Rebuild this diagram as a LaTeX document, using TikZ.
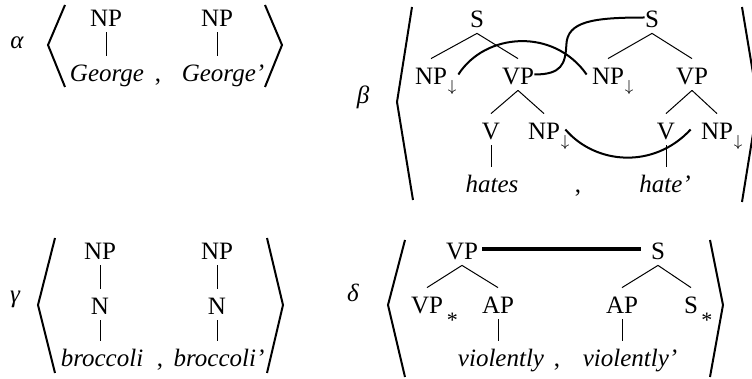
\documentclass[tikz,border=0pt]{standalone}
\usepackage{fontspec}
\setmainfont{Liberation Serif}

\newcommand{\subdown}{\rlap{\kern0.5pt\raisebox{-3.4pt}{\fontsize{8.5}{8.5}\selectfont$\downarrow$}}}
\newcommand{\footstar}[1]{\rlap{\hspace{#1}\raisebox{-7pt}{\fontsize{11}{11}\selectfont *}}}

\begin{document}
\begin{tikzpicture}[x=0.5pt, y=-0.5pt,
    cat/.style={inner sep=0pt, anchor=base, text height=13pt, text depth=2.5pt,
      font=\fontsize{12.5}{15}\selectfont},
    word/.style={cat, font=\fontsize{12.5}{15}\selectfont\itshape},
    tag/.style={inner sep=0pt, anchor=base, font=\fontsize{12.5}{15}\selectfont\itshape},
    sep/.style={inner sep=0pt, anchor=base, font=\fontsize{12.5}{15}\selectfont},
    branch/.style={line width=0.5pt},
    link/.style={line width=1pt},
    brack/.style={line width=1pt, line join=miter}
  ]
    \useasboundingbox (0,0) rectangle (752,379);
    \clip (0,0) rectangle (752,379);

    % alpha
    \node[tag] (alpha) at (17,49) {α};
    \node[cat] (a1np) at (106,27) {NP};
    \node[cat] (a2np) at (217,27) {NP};
    \node[word] (a1w) at (107,82) {George};
    \node[word] (a2w) at (223,82) {George'};
    \node[sep] (acomma) at (158,82) {,};
    \draw[branch] (a1np.south) -- (a1np.south |- a1w.north);
    \draw[branch] (a2np.south) -- (a2np.south |- a2w.north);
    \draw[brack] (65,5) -- (48,45) -- (65,87);
    \draw[brack] (265,5) -- (282,45) -- (265,87);

    % beta
    \node[tag] (beta) at (363,104) {β};
    \node[cat] (b1s) at (477,28) {S};
    \node[cat] (b2s) at (652,28) {S};
    \node[cat] (b1np) at (431,85) {NP\subdown};
    \node[cat] (b1vp) at (518,85) {VP};
    \node[cat] (b2np) at (608,85) {NP\subdown};
    \node[cat] (b2vp) at (692,85) {VP};
    \node[cat] (b1v) at (491,140) {V};
    \node[cat] (b1obj) at (544,140) {NP\subdown};
    \node[cat] (b2v) at (666,140) {V};
    \node[cat] (b2obj) at (717,140) {NP\subdown};
    \node[word] (b1w) at (492,193) {hates};
    \node[word] (b2w) at (665,193) {hate'};
    \node[sep] (bcomma) at (578,193) {,};
    \draw[branch] (b1s.south) -- (b1np.north);
    \draw[branch] (b1s.south) -- (b1vp.north);
    \draw[branch] (b2s.south) -- (b2np.north);
    \draw[branch] (b2s.south) -- (b2vp.north);
    \draw[branch] (b1vp.south) -- (b1v.north);
    \draw[branch] (b1vp.south) -- (b1obj.north);
    \draw[branch] (b2vp.south) -- (b2v.north);
    \draw[branch] (b2vp.south) -- (b2obj.north);
    \draw[branch] (b1v.south) -- (b1v.south |- b1w.north);
    \draw[branch] (b2v.south) -- (b2v.south |- b2w.north);
    \draw[link] ([xshift=5.5pt]b1np.east) .. controls +(27,-42) and +(-33,-47) .. ([xshift=-2.5pt]b2np.west);
    \draw[link] (b1vp.east) .. controls +(27,0) and +(-1,20) .. ++(32,-30)
      .. controls +(1,-23) and +(-52,0) .. (b2s.west);
    \draw[link] ([xshift=2.5pt]b1obj.east) .. controls +(30,35) and +(-37,40) .. ([xshift=-5pt]b2obj.west);
    \draw[brack] (412,7) -- (397,102) -- (413,200);
    \draw[brack] (742,7) -- (758,103) -- (742,202);

    % gamma
    \node[tag] (gamma) at (15,303) {γ};
    \node[cat] (g1np) at (100,260) {NP};
    \node[cat] (g1n) at (100,315) {N};
    \node[word] (g1w) at (102,367) {broccoli};
    \node[cat] (g2np) at (217,260) {NP};
    \node[cat] (g2n) at (217,315) {N};
    \node[word] (g2w) at (219,367) {broccoli'};
    \node[sep] (gcomma) at (160,367) {,};
    \draw[branch] (g1np.south) -- (g1n.north);
    \draw[branch] (g1n.south) -- (g1n.south |- g1w.north);
    \draw[branch] (g2np.south) -- (g2n.north);
    \draw[branch] (g2n.south) -- (g2n.south |- g2w.north);
    \draw[brack] (55,238) -- (38,305) -- (55,373);
    \draw[brack] (267,238) -- (283,305) -- (267,373);

    % delta
    \node[tag] (delta) at (353,302) {δ};
    \node[cat] (d1vp) at (462,260) {VP};
    \node[cat] (d2s) at (658,260) {S};
    \node[cat] (d1foot) at (427,314) {VP\footstar{2pt}};
    \node[cat] (d1ap) at (498,314) {AP};
    \node[cat] (d2ap) at (622,314) {AP};
    \node[cat] (d2foot) at (691,314) {S\footstar{1.7pt}};
    \node[word] (d1w) at (501,367) {violently};
    \node[word] (d2w) at (630,367) {violently'};
    \node[sep] (dcomma) at (557,367) {,};
    \draw[branch] (d1vp.south) -- (d1foot.north);
    \draw[branch] (d1vp.south) -- (d1ap.north);
    \draw[branch] (d2s.south) -- (d2ap.north);
    \draw[branch] (d2s.south) -- (d2foot.north);
    \draw[branch] (d1ap.south) -- (d1ap.south |- d1w.north);
    \draw[branch] (d2ap.south) -- (d2ap.south |- d2w.north);
    \draw[line width=2pt] ([xshift=2pt]d1vp.east) -- ([xshift=-5pt]d2s.west);
    \draw[brack] (405,240) -- (388,305) -- (405,377);
    \draw[brack] (710,240) -- (723,305) -- (710,377);
  \end{tikzpicture}
\end{document}
